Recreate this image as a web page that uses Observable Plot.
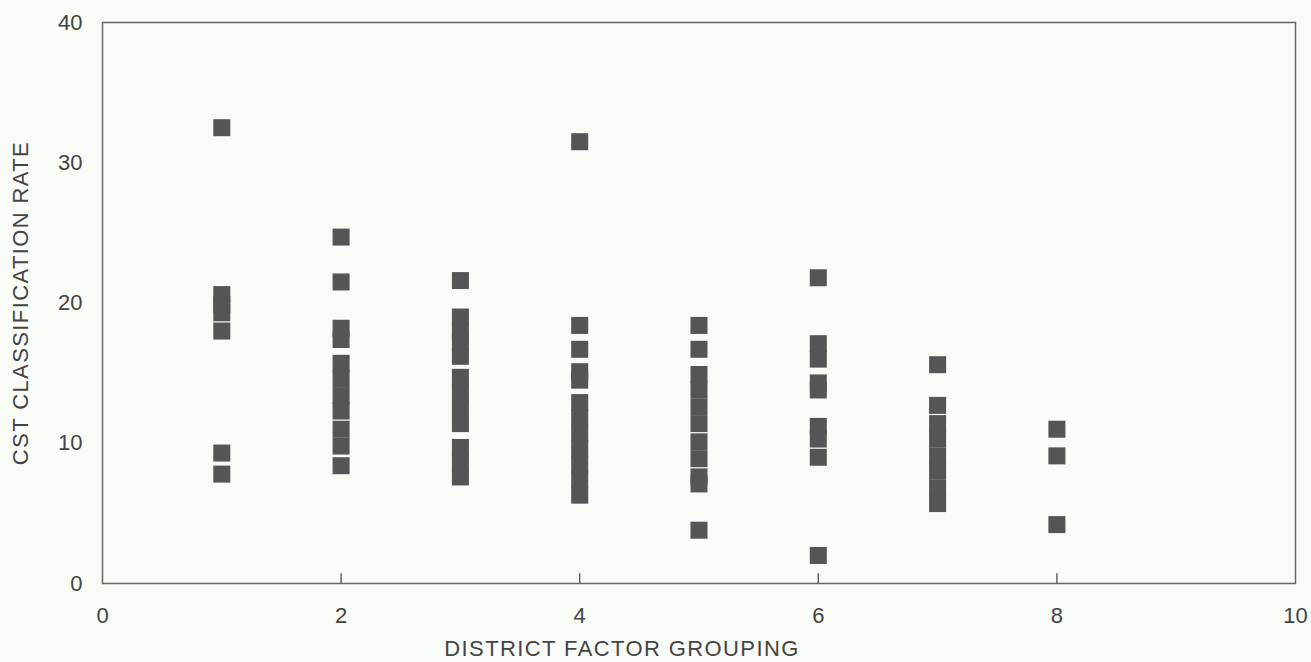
<!DOCTYPE html>
<html>
<head>
<meta charset="utf-8">
<script src="https://cdn.jsdelivr.net/npm/d3@7"></script>
<script src="https://cdn.jsdelivr.net/npm/@observablehq/plot@0.6"></script>
<style>
  html, body { margin: 0; padding: 0; background: #f8fbf6; }
  #chart svg { display: block; }
  #chart svg text { font-size: 22px; font-family: 'Liberation Sans', Arial, sans-serif; fill: #444; }
  #chart svg [aria-label="y-axis label"] text, #chart svg .xtitle text { letter-spacing: 1.4px; }
</style>
</head>
<body>
<div id="chart"></div>
<script>
// District factor grouping -> CST classification rates
const group1 = [32.5, 20.6, 19.9, 19.3, 18.0, 9.3, 7.8];
const group2 = [24.7, 21.5, 18.2, 17.4, 15.7, 14.6, 13.4, 12.3, 11.0, 9.8, 8.4];
const group3 = [21.6, 19.0, 18.0, 17.2, 16.2, 14.7, 13.6, 12.5, 11.4, 9.7, 8.6, 7.6];
const group4 = [31.5, 18.4, 16.7, 15.1, 14.5, 12.9, 11.8, 10.7, 9.6, 8.5, 7.4, 6.3];
const group5 = [18.4, 16.7, 14.9, 13.8, 12.6, 11.4, 10.1, 8.9, 7.6, 7.1, 3.8];
const group6 = [21.8, 17.1, 16.0, 14.3, 13.8, 11.2, 10.3, 9.0, 2.0];
const group7 = [15.6, 12.7, 11.4, 10.3, 9.1, 8.0, 6.8, 5.7];
const group8 = [11.0, 9.1, 4.2];
const groups = [group1, group2, group3, group4, group5, group6, group7, group8];
const xTicks = [0, 2, 4, 6, 8, 10];
const yTicks = [0, 10, 20, 30, 40];
const xTitle = "DISTRICT FACTOR GROUPING";
const yTitle = "CST CLASSIFICATION RATE";

const data = groups.flatMap((vals, i) => vals.map(v => ({dfg: i + 1, rate: v})));

const chart = Plot.plot({
  width: 1311,
  height: 662,
  marginLeft: 102,
  marginRight: 16,
  marginTop: 22,
  marginBottom: 79,
  style: {background: "#f8fbf6", fontFamily: "'Liberation Sans', Arial, sans-serif", fontSize: "22px", color: "#444"},
  x: {domain: [0, 10], ticks: xTicks},
  y: {domain: [0, 40], ticks: yTicks},
  marks: [
    Plot.frame({stroke: "#666", strokeWidth: 1.5}),
    Plot.ruleX([2, 4, 6, 8], {y1: 0, y2: 0.7, stroke: "#666", strokeWidth: 1.5}),
    Plot.axisX({ticks: xTicks, tickSize: 0, tickPadding: 24, fontSize: 22, fill: "#444", label: null}),
    Plot.text([xTitle], {text: d => d, frameAnchor: "bottom", lineAnchor: "middle", dx: -77, dy: 65,
      fontSize: 22, fill: "#444", className: "xtitle"}),
    Plot.axisY({ticks: yTicks, tickSize: 0, tickPadding: 20, fontSize: 22, fill: "#444",
      label: yTitle, labelAnchor: "center", labelArrow: "none", labelOffset: 90}),
    Plot.dot(data, {x: "dfg", y: "rate", symbol: "square", r: 9.6, fill: "#555", stroke: "none"})
  ]
});
document.getElementById("chart").appendChild(chart);
</script>
</body>
</html>
